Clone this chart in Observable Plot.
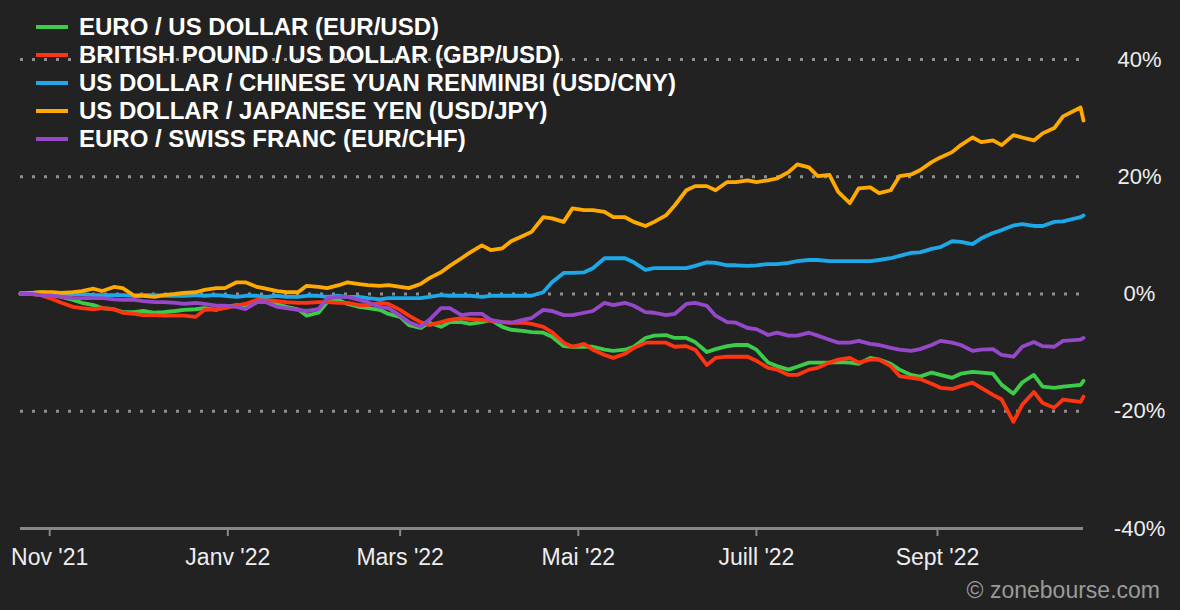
<!DOCTYPE html>
<html><head><meta charset="utf-8">
<script src="https://cdn.jsdelivr.net/npm/d3@7"></script>
<script src="https://cdn.jsdelivr.net/npm/@observablehq/plot@0.6"></script>
<style>
html,body{margin:0;padding:0;background:#222;}
#wrap{position:relative;width:1180px;height:610px;background:#222;font-family:"Liberation Sans",Arial,sans-serif;overflow:hidden;}
#legend{position:absolute;left:36px;top:13px;}
.row{height:28px;display:flex;align-items:center;}
.sw{width:32px;height:4px;margin-right:11px;}
.lab{color:#fff;font-weight:bold;font-size:24px;line-height:28px;white-space:nowrap;}
#credit{position:absolute;right:20px;top:577px;color:#9a9a9a;font-size:23px;}
</style></head><body>
<div id="wrap"><div id="chart"></div><div id="legend"></div><div id="credit">© zonebourse.com</div></div>
<script>
const dates = [
"2021-10-22","2021-10-26","2021-10-29","2021-11-02","2021-11-05","2021-11-09","2021-11-12","2021-11-16",
"2021-11-19","2021-11-23","2021-11-26","2021-11-30","2021-12-03","2021-12-07","2021-12-10","2021-12-14",
"2021-12-17","2021-12-21","2021-12-24","2021-12-28","2021-12-31","2022-01-04","2022-01-07","2022-01-11",
"2022-01-14","2022-01-18","2022-01-21","2022-01-25","2022-01-28","2022-02-01","2022-02-04","2022-02-08",
"2022-02-11","2022-02-15","2022-02-18","2022-02-22","2022-02-25","2022-03-01","2022-03-04","2022-03-08",
"2022-03-11","2022-03-15","2022-03-18","2022-03-22","2022-03-25","2022-03-29","2022-04-01","2022-04-05",
"2022-04-08","2022-04-12","2022-04-15","2022-04-19","2022-04-22","2022-04-26","2022-04-29","2022-05-03",
"2022-05-06","2022-05-10","2022-05-13","2022-05-17","2022-05-20","2022-05-24","2022-05-27","2022-05-31",
"2022-06-03","2022-06-07","2022-06-10","2022-06-14","2022-06-17","2022-06-21","2022-06-24","2022-06-28",
"2022-07-01","2022-07-05","2022-07-08","2022-07-12","2022-07-15","2022-07-19","2022-07-22","2022-07-26",
"2022-07-29","2022-08-02","2022-08-05","2022-08-09","2022-08-12","2022-08-16","2022-08-19","2022-08-23",
"2022-08-26","2022-08-30","2022-09-02","2022-09-06","2022-09-09","2022-09-13","2022-09-16","2022-09-20",
"2022-09-23","2022-09-27","2022-09-30","2022-10-04","2022-10-07","2022-10-11","2022-10-14","2022-10-20","2022-10-21"];

const seriesNames = ["EURO / US DOLLAR (EUR/USD)","BRITISH POUND / US DOLLAR (GBP/USD)","US DOLLAR / CHINESE YUAN RENMINBI (USD/CNY)","US DOLLAR / JAPANESE YEN (USD/JPY)","EURO / SWISS FRANC (EUR/CHF)"];
const seriesColors = ["#3ccc4a","#ff3410","#1ea8e8","#ffaa00","#9548c8"];

const eurusd = [
0.0,0.2,0.3,0.0,-0.5,-1.0,-1.5,-1.9,
-2.4,-2.6,-3.1,-3.1,-2.9,-3.2,-3.1,-2.9,
-2.7,-2.6,-2.4,-2.7,-2.2,-1.9,-1.9,-1.4,
-1.2,-1.7,-2.2,-2.6,-3.7,-3.2,-1.4,-1.0,
-1.7,-2.2,-2.4,-2.7,-3.4,-3.9,-5.3,-5.8,
-4.9,-5.6,-4.8,-4.8,-5.1,-4.8,-4.4,-5.6,
-6.1,-6.3,-6.5,-6.6,-7.3,-8.9,-9.0,-9.0,
-9.0,-9.5,-9.7,-9.5,-9.0,-7.5,-7.1,-7.0,
-7.5,-7.5,-8.2,-9.9,-9.4,-8.9,-8.7,-8.7,
-9.5,-11.7,-12.3,-12.9,-12.4,-11.7,-11.7,-11.7,
-11.6,-11.7,-11.9,-10.9,-11.2,-11.9,-12.9,-13.8,
-14.1,-13.4,-13.8,-14.3,-13.6,-13.3,-13.4,-13.6,
-15.5,-17.0,-15.1,-13.8,-15.8,-16.0,-15.8,-15.5,-14.8];
const gbpusd = [
0.0,0.0,-0.2,-0.9,-1.5,-2.2,-2.4,-2.6,
-2.4,-2.6,-3.2,-3.4,-3.6,-3.6,-3.7,-3.7,
-3.7,-3.9,-2.7,-2.6,-2.4,-2.0,-1.7,-1.0,
-1.0,-1.2,-1.4,-1.5,-1.5,-1.4,-1.4,-1.5,
-1.5,-1.9,-1.9,-1.5,-1.7,-2.7,-3.7,-4.8,
-5.3,-4.8,-4.4,-4.1,-4.3,-4.4,-4.6,-4.8,
-4.9,-4.9,-5.1,-5.6,-6.5,-8.3,-9.0,-8.5,
-9.5,-10.4,-10.9,-10.2,-9.2,-8.3,-8.3,-8.3,
-9.0,-8.9,-9.5,-12.1,-10.9,-10.7,-10.7,-10.7,
-11.4,-12.6,-12.9,-13.8,-13.8,-12.9,-12.6,-11.7,
-11.2,-10.9,-11.7,-11.2,-11.2,-12.3,-14.0,-14.3,
-14.5,-15.3,-16.0,-16.2,-15.7,-15.1,-16.0,-17.2,
-18.0,-21.8,-18.9,-16.7,-18.6,-19.4,-18.0,-18.4,-17.5];
const usdcny = [
0.2,0.0,0.0,-0.2,-0.2,0.0,0.0,-0.2,
-0.2,-0.2,-0.2,-0.3,-0.2,-0.2,-0.3,-0.3,
-0.3,-0.2,-0.3,-0.2,-0.3,-0.5,-0.3,-0.3,
-0.5,-0.3,-0.5,-0.5,-0.3,-0.3,-0.5,-0.3,
-0.5,-0.5,-0.7,-0.9,-0.7,-0.7,-0.7,-0.7,
-0.5,-0.2,-0.3,-0.3,-0.3,-0.5,-0.3,-0.3,
-0.3,-0.3,-0.3,0.3,2.0,3.6,3.6,3.7,
4.4,6.1,6.1,6.1,5.4,4.1,4.4,4.4,
4.4,4.4,4.8,5.4,5.3,4.9,4.9,4.8,
4.9,5.1,5.1,5.3,5.6,5.8,5.8,5.6,
5.6,5.6,5.6,5.6,5.8,6.1,6.5,7.0,
7.1,7.7,8.0,9.0,8.9,8.5,9.5,10.4,
10.9,11.7,11.9,11.6,11.6,12.3,12.4,13.1,13.4];
const usdjpy = [
0.0,0.2,0.3,0.3,0.2,0.3,0.5,0.9,
0.5,1.2,1.0,-0.3,-0.3,-0.5,-0.2,0.0,
0.2,0.3,0.7,1.0,1.0,2.0,2.0,1.2,
0.9,0.5,0.3,0.3,1.4,1.2,1.0,1.5,
2.0,1.7,1.5,1.4,1.5,1.2,1.0,1.7,
2.7,3.7,4.8,6.1,7.1,8.3,7.5,7.8,
9.0,9.9,10.6,13.1,12.9,12.3,14.6,14.3,
14.3,14.0,13.1,13.1,12.3,11.6,12.3,13.4,
15.1,17.7,18.4,18.4,17.7,19.1,19.1,19.4,
19.1,19.4,19.7,20.8,22.1,21.6,20.1,20.3,
17.4,15.5,18.0,18.2,17.2,17.7,20.1,20.4,
21.1,22.5,23.3,24.2,25.4,26.7,25.9,26.2,
25.4,27.1,26.7,26.2,27.4,28.3,30.3,31.8,29.6];
const eurchf = [
0.0,0.0,-0.2,-0.3,-0.5,-0.7,-0.7,-0.7,
-0.7,-0.9,-1.0,-1.0,-1.2,-1.4,-1.4,-1.5,
-1.7,-1.5,-1.7,-2.0,-2.0,-2.2,-2.6,-1.4,
-1.4,-2.2,-2.4,-2.7,-2.9,-2.6,-0.7,-0.5,
-0.5,-1.0,-1.4,-2.2,-2.4,-3.7,-4.8,-5.6,
-4.4,-2.4,-2.4,-3.6,-3.4,-3.4,-4.4,-4.8,
-4.9,-4.4,-4.1,-2.7,-2.9,-3.6,-3.6,-3.2,
-2.9,-1.5,-1.9,-1.5,-2.0,-3.1,-3.2,-3.6,
-3.4,-1.7,-1.5,-2.0,-3.7,-4.8,-4.9,-5.8,
-6.0,-7.0,-6.6,-7.1,-7.1,-6.6,-7.1,-7.8,
-8.3,-8.3,-8.0,-8.5,-8.7,-9.2,-9.5,-9.7,
-9.4,-8.7,-8.0,-8.3,-8.7,-9.7,-9.5,-9.4,
-10.4,-10.7,-9.0,-8.2,-8.9,-9.0,-8.0,-7.8,-7.5];

const yTicks = [40, 20, 0, -20, -40];
const gridTicks = [40, 20, 0, -20];
const xTickDates = ["2021-11-01","2022-01-01","2022-03-01","2022-05-01","2022-07-01","2022-09-01"];
const xTickLabels = ["Nov '21","Janv '22","Mars '22","Mai '22","Juill '22","Sept '22"];

const seriesValues = [eurusd, gbpusd, usdcny, usdjpy, eurchf];
const rows = seriesNames.flatMap((name, s) => dates.map((d, i) => ({series: name, date: new Date(d), value: seriesValues[s][i]})));
const tickDates = xTickDates.map(d => new Date(d));

const chart = Plot.plot({
  width: 1180, height: 610,
  marginLeft: 20, marginRight: 97, marginTop: 59, marginBottom: 82,
  style: {background: "#222", color: "#eee", fontFamily: "'Liberation Sans', Arial, sans-serif", overflow: "visible"},
  x: {type: "utc", domain: [new Date("2021-10-22"), new Date("2022-10-21")]},
  y: {domain: [-40, 40]},
  color: {domain: seriesNames, range: seriesColors},
  marks: [
    Plot.ruleY(gridTicks, {stroke: "#8e8e8e", strokeWidth: 3, strokeDasharray: "3,9"}),
    Plot.ruleY([-40], {stroke: "#888", strokeWidth: 3}),
    Plot.axisX({ticks: tickDates, tickFormat: d => xTickLabels[tickDates.findIndex(t => +t === +d)], tickSize: 8, stroke: "#888", strokeWidth: 2, fill: "#eee", fontSize: 23, tickPadding: 12, label: null}),
    Plot.axisY({anchor: "right", ticks: yTicks, tickFormat: d => d + "%", tickSize: 0, tickPadding: 0, dx: 56, textAnchor: "middle", fill: "#eee", fontSize: 22, label: null}),
    Plot.line(rows, {x: "date", y: "value", z: "series", stroke: "series", strokeWidth: 3.8, strokeLinejoin: "round"})
  ]
});
document.getElementById("chart").appendChild(chart);

const legend = document.getElementById("legend");
seriesNames.forEach((name, i) => {
  const row = document.createElement("div");
  row.className = "row";
  row.innerHTML = `<div class="sw" style="background:${seriesColors[i]}"></div><div class="lab">${name}</div>`;
  legend.appendChild(row);
});
</script>
</body></html>
